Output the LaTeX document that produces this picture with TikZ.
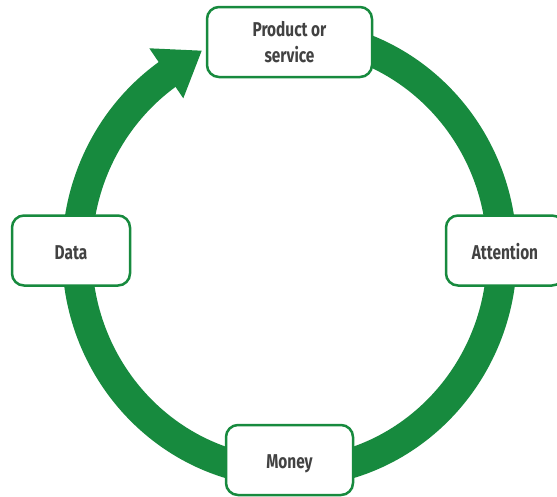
\documentclass[tikz,border=0pt]{standalone}
\usepackage{fontspec}
\setmainfont{Fira Sans}[FakeStretch=0.77]
\definecolor{cyclegreen}{RGB}{23,138,62}
\definecolor{labelgrey}{RGB}{66,66,66}
\begin{document}
\begin{tikzpicture}[x=1pt,y=-1pt,
  stage/.style={draw=cyclegreen, line width=2.5pt, fill=white, rounded corners=12pt,
    minimum height=70pt, inner sep=0pt, align=center, text=labelgrey,
    font=\fontsize{20}{26}\selectfont\bfseries},
  oneline/.style={text height=17pt, text depth=0pt},
  band/.style={draw=cyclegreen, line width=30pt}]
\useasboundingbox (0,0) rectangle (557,496);
% ring
\coordinate (ctr) at (289.5,253.5);
\draw[band] (ctr) ++(-90:212.5 and 219) arc[start angle=-90, end angle=236, x radius=212.5, y radius=219];
% arrow head
\coordinate (hA) at (149.3,48.3);
\coordinate (hB) at (183.3,98.3);
\coordinate (hT) at (201.7,50.7);
\fill[cyclegreen] (hA) -- (hT) -- (hB) -- cycle;
% stages
\node[stage, minimum width=165pt] (prod) at (289.5,42) {Product or\\service};
\node[stage, oneline, minimum width=118pt] (attn) at (505,250.5) {Attention};
\node[stage, oneline, minimum width=127pt] (money) at (289.5,460) {Money};
\node[stage, oneline, minimum width=118pt] (data) at (71,250.5) {Data};
\end{tikzpicture}
\end{document}
